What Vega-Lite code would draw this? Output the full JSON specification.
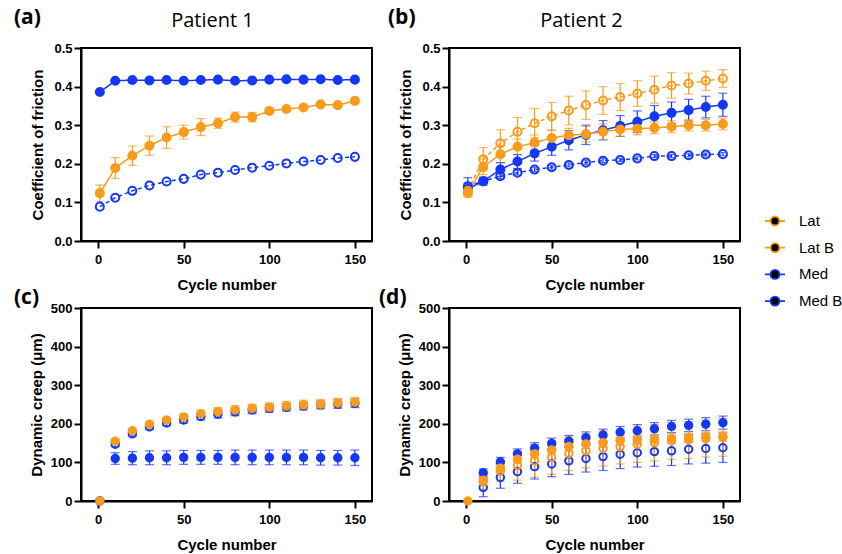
{
  "$schema": "https://vega.github.io/schema/vega-lite/v6.json",
  "padding": {"left": 13, "top": 6, "right": 0, "bottom": 0},
  "config": {
    "font": "Liberation Sans",
    "view": {"stroke": "black", "strokeWidth": 2},
    "axis": {
      "grid": false,
      "labelFont": "Liberation Sans", "labelFontWeight": "bold", "labelFontSize": 13, "labelColor": "black",
      "titleFont": "Liberation Sans", "titleFontWeight": "bold", "titleFontSize": 15, "titleColor": "black",
      "domainColor": "black", "domainWidth": 2, "tickColor": "black", "tickWidth": 2, "tickSize": 7, "labelPadding": 2
    },
    "axisX": {"labelPadding": 5, "titlePadding": 11},
    "axisY": {"titlePadding": 8},
    "title": {"font": "Open Sans", "fontSize": 21, "fontWeight": "bold", "anchor": "start", "frame": "group", "baseline": "alphabetic", "color": "black"}
  },
  "datasets": {
    "a": [
      {"s": "Med B", "x": 1, "y": 0.089, "e": 0}, {"s": "Med B", "x": 10, "y": 0.112, "e": 0}, {"s": "Med B", "x": 20, "y": 0.130, "e": 0}, {"s": "Med B", "x": 30, "y": 0.144, "e": 0}, {"s": "Med B", "x": 40, "y": 0.154, "e": 0}, {"s": "Med B", "x": 50, "y": 0.161, "e": 0}, {"s": "Med B", "x": 60, "y": 0.172, "e": 0}, {"s": "Med B", "x": 70, "y": 0.177, "e": 0}, {"s": "Med B", "x": 80, "y": 0.184, "e": 0}, {"s": "Med B", "x": 90, "y": 0.190, "e": 0}, {"s": "Med B", "x": 100, "y": 0.195, "e": 0}, {"s": "Med B", "x": 110, "y": 0.201, "e": 0}, {"s": "Med B", "x": 120, "y": 0.206, "e": 0}, {"s": "Med B", "x": 130, "y": 0.210, "e": 0}, {"s": "Med B", "x": 140, "y": 0.215, "e": 0}, {"s": "Med B", "x": 150, "y": 0.218, "e": 0},
      {"s": "Med", "x": 1, "y": 0.386, "e": 0}, {"s": "Med", "x": 10, "y": 0.415, "e": 0}, {"s": "Med", "x": 20, "y": 0.417, "e": 0}, {"s": "Med", "x": 30, "y": 0.416, "e": 0}, {"s": "Med", "x": 40, "y": 0.417, "e": 0}, {"s": "Med", "x": 50, "y": 0.415, "e": 0}, {"s": "Med", "x": 60, "y": 0.417, "e": 0}, {"s": "Med", "x": 70, "y": 0.418, "e": 0}, {"s": "Med", "x": 80, "y": 0.415, "e": 0}, {"s": "Med", "x": 90, "y": 0.416, "e": 0}, {"s": "Med", "x": 100, "y": 0.418, "e": 0}, {"s": "Med", "x": 110, "y": 0.419, "e": 0}, {"s": "Med", "x": 120, "y": 0.418, "e": 0}, {"s": "Med", "x": 130, "y": 0.419, "e": 0}, {"s": "Med", "x": 140, "y": 0.417, "e": 0}, {"s": "Med", "x": 150, "y": 0.418, "e": 0},
      {"s": "Lat", "x": 1, "y": 0.124, "e": 0.021}, {"s": "Lat", "x": 10, "y": 0.189, "e": 0.027}, {"s": "Lat", "x": 20, "y": 0.221, "e": 0.025}, {"s": "Lat", "x": 30, "y": 0.247, "e": 0.025}, {"s": "Lat", "x": 40, "y": 0.268, "e": 0.028}, {"s": "Lat", "x": 50, "y": 0.282, "e": 0.018}, {"s": "Lat", "x": 60, "y": 0.295, "e": 0.022}, {"s": "Lat", "x": 70, "y": 0.305, "e": 0.013}, {"s": "Lat", "x": 80, "y": 0.321, "e": 0.013}, {"s": "Lat", "x": 90, "y": 0.321, "e": 0.012}, {"s": "Lat", "x": 100, "y": 0.337, "e": 0.006}, {"s": "Lat", "x": 110, "y": 0.342, "e": 0.005}, {"s": "Lat", "x": 120, "y": 0.346, "e": 0.005}, {"s": "Lat", "x": 130, "y": 0.354, "e": 0.004}, {"s": "Lat", "x": 140, "y": 0.352, "e": 0.004}, {"s": "Lat", "x": 150, "y": 0.363, "e": 0.004}
    ],
    "b": [
      {"s": "Med B", "x": 1, "y": 0.142, "e": 0.022}, {"s": "Med B", "x": 10, "y": 0.155, "e": 0.006}, {"s": "Med B", "x": 20, "y": 0.168, "e": 0.006}, {"s": "Med B", "x": 30, "y": 0.177, "e": 0.006}, {"s": "Med B", "x": 40, "y": 0.185, "e": 0.005}, {"s": "Med B", "x": 50, "y": 0.191, "e": 0.005}, {"s": "Med B", "x": 60, "y": 0.197, "e": 0.005}, {"s": "Med B", "x": 70, "y": 0.203, "e": 0.005}, {"s": "Med B", "x": 80, "y": 0.208, "e": 0.005}, {"s": "Med B", "x": 90, "y": 0.210, "e": 0.004}, {"s": "Med B", "x": 100, "y": 0.214, "e": 0.004}, {"s": "Med B", "x": 110, "y": 0.220, "e": 0.004}, {"s": "Med B", "x": 120, "y": 0.220, "e": 0.004}, {"s": "Med B", "x": 130, "y": 0.222, "e": 0.004}, {"s": "Med B", "x": 140, "y": 0.224, "e": 0.004}, {"s": "Med B", "x": 150, "y": 0.225, "e": 0.004},
      {"s": "Med", "x": 1, "y": 0.135, "e": 0.015}, {"s": "Med", "x": 10, "y": 0.155, "e": 0.01}, {"s": "Med", "x": 20, "y": 0.185, "e": 0.018}, {"s": "Med", "x": 30, "y": 0.206, "e": 0.018}, {"s": "Med", "x": 40, "y": 0.227, "e": 0.02}, {"s": "Med", "x": 50, "y": 0.244, "e": 0.022}, {"s": "Med", "x": 60, "y": 0.261, "e": 0.025}, {"s": "Med", "x": 70, "y": 0.275, "e": 0.025}, {"s": "Med", "x": 80, "y": 0.287, "e": 0.025}, {"s": "Med", "x": 90, "y": 0.298, "e": 0.027}, {"s": "Med", "x": 100, "y": 0.309, "e": 0.028}, {"s": "Med", "x": 110, "y": 0.323, "e": 0.028}, {"s": "Med", "x": 120, "y": 0.332, "e": 0.028}, {"s": "Med", "x": 130, "y": 0.339, "e": 0.028}, {"s": "Med", "x": 140, "y": 0.347, "e": 0.028}, {"s": "Med", "x": 150, "y": 0.353, "e": 0.03},
      {"s": "Lat B", "x": 1, "y": 0.130, "e": 0.012}, {"s": "Lat B", "x": 10, "y": 0.212, "e": 0.03}, {"s": "Lat B", "x": 20, "y": 0.253, "e": 0.035}, {"s": "Lat B", "x": 30, "y": 0.283, "e": 0.037}, {"s": "Lat B", "x": 40, "y": 0.305, "e": 0.038}, {"s": "Lat B", "x": 50, "y": 0.323, "e": 0.036}, {"s": "Lat B", "x": 60, "y": 0.338, "e": 0.037}, {"s": "Lat B", "x": 70, "y": 0.352, "e": 0.037}, {"s": "Lat B", "x": 80, "y": 0.364, "e": 0.036}, {"s": "Lat B", "x": 90, "y": 0.373, "e": 0.035}, {"s": "Lat B", "x": 100, "y": 0.382, "e": 0.033}, {"s": "Lat B", "x": 110, "y": 0.392, "e": 0.035}, {"s": "Lat B", "x": 120, "y": 0.403, "e": 0.033}, {"s": "Lat B", "x": 130, "y": 0.408, "e": 0.027}, {"s": "Lat B", "x": 140, "y": 0.415, "e": 0.025}, {"s": "Lat B", "x": 150, "y": 0.421, "e": 0.023},
      {"s": "Lat", "x": 1, "y": 0.125, "e": 0.012}, {"s": "Lat", "x": 10, "y": 0.192, "e": 0.02}, {"s": "Lat", "x": 20, "y": 0.225, "e": 0.022}, {"s": "Lat", "x": 30, "y": 0.244, "e": 0.02}, {"s": "Lat", "x": 40, "y": 0.255, "e": 0.02}, {"s": "Lat", "x": 50, "y": 0.267, "e": 0.02}, {"s": "Lat", "x": 60, "y": 0.274, "e": 0.018}, {"s": "Lat", "x": 70, "y": 0.277, "e": 0.02}, {"s": "Lat", "x": 80, "y": 0.283, "e": 0.02}, {"s": "Lat", "x": 90, "y": 0.289, "e": 0.018}, {"s": "Lat", "x": 100, "y": 0.291, "e": 0.016}, {"s": "Lat", "x": 110, "y": 0.293, "e": 0.015}, {"s": "Lat", "x": 120, "y": 0.296, "e": 0.015}, {"s": "Lat", "x": 130, "y": 0.300, "e": 0.015}, {"s": "Lat", "x": 140, "y": 0.300, "e": 0.015}, {"s": "Lat", "x": 150, "y": 0.303, "e": 0.015}
    ],
    "c": [
      {"s": "Med B", "x": 1, "y": 0, "e": 0}, {"s": "Med B", "x": 10, "y": 147, "e": 6}, {"s": "Med B", "x": 20, "y": 174, "e": 6}, {"s": "Med B", "x": 30, "y": 192, "e": 6}, {"s": "Med B", "x": 40, "y": 202, "e": 7}, {"s": "Med B", "x": 50, "y": 210, "e": 8}, {"s": "Med B", "x": 60, "y": 219, "e": 9}, {"s": "Med B", "x": 70, "y": 225, "e": 10}, {"s": "Med B", "x": 80, "y": 231, "e": 10}, {"s": "Med B", "x": 90, "y": 236, "e": 10}, {"s": "Med B", "x": 100, "y": 240, "e": 10}, {"s": "Med B", "x": 110, "y": 243, "e": 10}, {"s": "Med B", "x": 120, "y": 246, "e": 10}, {"s": "Med B", "x": 130, "y": 249, "e": 10}, {"s": "Med B", "x": 140, "y": 251, "e": 11}, {"s": "Med B", "x": 150, "y": 253, "e": 11},
      {"s": "Med", "x": 1, "y": 0, "e": 0}, {"s": "Med", "x": 10, "y": 110, "e": 15}, {"s": "Med", "x": 20, "y": 111, "e": 17}, {"s": "Med", "x": 30, "y": 112, "e": 18}, {"s": "Med", "x": 40, "y": 112, "e": 18}, {"s": "Med", "x": 50, "y": 113, "e": 18}, {"s": "Med", "x": 60, "y": 113, "e": 18}, {"s": "Med", "x": 70, "y": 113, "e": 18}, {"s": "Med", "x": 80, "y": 113, "e": 19}, {"s": "Med", "x": 90, "y": 113, "e": 19}, {"s": "Med", "x": 100, "y": 113, "e": 19}, {"s": "Med", "x": 110, "y": 113, "e": 19}, {"s": "Med", "x": 120, "y": 113, "e": 19}, {"s": "Med", "x": 130, "y": 112, "e": 19}, {"s": "Med", "x": 140, "y": 112, "e": 19}, {"s": "Med", "x": 150, "y": 112, "e": 20},
      {"s": "Lat", "x": 1, "y": 0, "e": 0}, {"s": "Lat", "x": 10, "y": 155, "e": 5}, {"s": "Lat", "x": 20, "y": 182, "e": 5}, {"s": "Lat", "x": 30, "y": 199, "e": 5}, {"s": "Lat", "x": 40, "y": 210, "e": 6}, {"s": "Lat", "x": 50, "y": 218, "e": 7}, {"s": "Lat", "x": 60, "y": 226, "e": 9}, {"s": "Lat", "x": 70, "y": 232, "e": 10}, {"s": "Lat", "x": 80, "y": 236, "e": 11}, {"s": "Lat", "x": 90, "y": 240, "e": 11}, {"s": "Lat", "x": 100, "y": 243, "e": 11}, {"s": "Lat", "x": 110, "y": 246, "e": 12}, {"s": "Lat", "x": 120, "y": 249, "e": 12}, {"s": "Lat", "x": 130, "y": 251, "e": 12}, {"s": "Lat", "x": 140, "y": 254, "e": 12}, {"s": "Lat", "x": 150, "y": 256, "e": 12}
    ],
    "d": [
      {"s": "Med B", "x": 10, "y": 35, "e": 24}, {"s": "Med B", "x": 20, "y": 61, "e": 28}, {"s": "Med B", "x": 30, "y": 76, "e": 30}, {"s": "Med B", "x": 40, "y": 89, "e": 32}, {"s": "Med B", "x": 50, "y": 96, "e": 33}, {"s": "Med B", "x": 60, "y": 104, "e": 35}, {"s": "Med B", "x": 70, "y": 110, "e": 35}, {"s": "Med B", "x": 80, "y": 115, "e": 36}, {"s": "Med B", "x": 90, "y": 121, "e": 37}, {"s": "Med B", "x": 100, "y": 125, "e": 37}, {"s": "Med B", "x": 110, "y": 128, "e": 38}, {"s": "Med B", "x": 120, "y": 130, "e": 38}, {"s": "Med B", "x": 130, "y": 134, "e": 38}, {"s": "Med B", "x": 140, "y": 136, "e": 38}, {"s": "Med B", "x": 150, "y": 138, "e": 38},
      {"s": "Med", "x": 10, "y": 73, "e": 10}, {"s": "Med", "x": 20, "y": 101, "e": 12}, {"s": "Med", "x": 30, "y": 122, "e": 13}, {"s": "Med", "x": 40, "y": 137, "e": 14}, {"s": "Med", "x": 50, "y": 149, "e": 14}, {"s": "Med", "x": 60, "y": 155, "e": 15}, {"s": "Med", "x": 70, "y": 164, "e": 15}, {"s": "Med", "x": 80, "y": 171, "e": 15}, {"s": "Med", "x": 90, "y": 178, "e": 15}, {"s": "Med", "x": 100, "y": 182, "e": 16}, {"s": "Med", "x": 110, "y": 187, "e": 16}, {"s": "Med", "x": 120, "y": 193, "e": 16}, {"s": "Med", "x": 130, "y": 196, "e": 16}, {"s": "Med", "x": 140, "y": 199, "e": 17}, {"s": "Med", "x": 150, "y": 203, "e": 17},
      {"s": "Lat B", "x": 10, "y": 50, "e": 20}, {"s": "Lat B", "x": 20, "y": 78, "e": 28}, {"s": "Lat B", "x": 30, "y": 92, "e": 38}, {"s": "Lat B", "x": 40, "y": 104, "e": 42}, {"s": "Lat B", "x": 50, "y": 113, "e": 44}, {"s": "Lat B", "x": 60, "y": 123, "e": 44}, {"s": "Lat B", "x": 70, "y": 130, "e": 44}, {"s": "Lat B", "x": 80, "y": 136, "e": 45}, {"s": "Lat B", "x": 90, "y": 141, "e": 45}, {"s": "Lat B", "x": 100, "y": 147, "e": 47}, {"s": "Lat B", "x": 110, "y": 151, "e": 47}, {"s": "Lat B", "x": 120, "y": 156, "e": 48}, {"s": "Lat B", "x": 130, "y": 158, "e": 48}, {"s": "Lat B", "x": 140, "y": 162, "e": 48}, {"s": "Lat B", "x": 150, "y": 165, "e": 49},
      {"s": "Lat", "x": 1, "y": 0, "e": 0}, {"s": "Lat", "x": 10, "y": 54, "e": 8}, {"s": "Lat", "x": 20, "y": 85, "e": 10}, {"s": "Lat", "x": 30, "y": 108, "e": 10}, {"s": "Lat", "x": 40, "y": 122, "e": 10}, {"s": "Lat", "x": 50, "y": 132, "e": 10}, {"s": "Lat", "x": 60, "y": 141, "e": 12}, {"s": "Lat", "x": 70, "y": 148, "e": 12}, {"s": "Lat", "x": 80, "y": 151, "e": 12}, {"s": "Lat", "x": 90, "y": 156, "e": 12}, {"s": "Lat", "x": 100, "y": 158, "e": 12}, {"s": "Lat", "x": 110, "y": 160, "e": 12}, {"s": "Lat", "x": 120, "y": 162, "e": 12}, {"s": "Lat", "x": 130, "y": 164, "e": 12}, {"s": "Lat", "x": 140, "y": 166, "e": 12}, {"s": "Lat", "x": 150, "y": 167, "e": 12}
    ]
  },
  "columns": 2,
  "bounds": "flush",
  "spacing": {"row": 67, "column": 77},
  "concat": [
    {
      "width": 291, "height": 193,
      "data": {"name": "a"},
      "title": {"text": "(a)", "dx": -67, "offset": -18},
      "resolve": {"axis": {"x": "independent", "y": "independent"}},
      "layer": [
        {
          "mark": {"type": "line", "strokeWidth": 1.5},
          "encoding": {
            "x": {"field": "x", "type": "quantitative", "scale": {"domain": [-10, 160], "nice": false, "zero": false}, "axis": {"orient": "bottom", "values": [0, 50, 100, 150], "title": "Cycle number"}},
            "y": {"field": "y", "type": "quantitative", "scale": {"domain": [0, 0.5], "nice": false}, "axis": {"orient": "left", "values": [0, 0.1, 0.2, 0.3, 0.4, 0.5], "format": ".1f", "title": "Coefficient of friction"}},
            "stroke": {"field": "s", "type": "nominal", "scale": {"domain": ["Lat", "Lat B", "Med", "Med B"], "range": ["#F99B1C", "#F99B1C", "#1438F4", "#1438F4"]}},
            "strokeDash": {"field": "s", "type": "nominal", "scale": {"domain": ["Med B", "Med", "Lat B", "Lat"], "range": [[4, 3], [1, 0], [4, 3], [1, 0]]}, "legend": null}
          }
        },
        {
          "transform": [{"filter": "datum.e > 0"}],
          "mark": {"type": "errorbar", "ticks": true, "size": 9, "thickness": 1.2},
          "encoding": {
            "x": {"field": "x", "type": "quantitative", "axis": null},
            "y": {"field": "y", "type": "quantitative", "axis": null},
            "yError": {"field": "e"},
            "color": {"field": "s", "type": "nominal", "scale": {"domain": ["Med", "Med B", "Lat", "Lat B"], "range": ["#1438F4", "#1438F4", "#F99B1C", "#F99B1C"]}, "legend": null}
          }
        },
        {
          "mark": {"type": "point", "shape": "circle", "size": 65, "strokeWidth": 2, "opacity": 1},
          "encoding": {
            "x": {"field": "x", "type": "quantitative", "axis": null},
            "y": {"field": "y", "type": "quantitative", "axis": null},
            "stroke": {"field": "s", "type": "nominal", "scale": {"domain": ["Lat", "Lat B", "Med", "Med B"], "range": ["#F99B1C", "#F99B1C", "#1438F4", "#1438F4"]},
              "legend": {
                "title": null, "orient": "none", "legendX": 683, "legendY": 162,
                "symbolType": "M-1,0L-0.45,0M0.45,0L1,0M-0.45,0A0.45,0.45,0,1,1,0.45,0A0.45,0.45,0,1,1,-0.45,0Z",
                "symbolSize": 400, "symbolStrokeWidth": 1.8, "symbolOpacity": 1,
                "labelFont": "Liberation Sans", "labelFontSize": 15, "labelFontWeight": "normal", "labelColor": "black",
                "labelOffset": 13, "rowPadding": 6.7, "padding": 0,
                "encode": {"symbols": {
                  "fill": {"condition": [{"test": "datum.value === 'Lat B' || datum.value === 'Med B'", "value": "transparent"}, {"test": "datum.value === 'Lat'", "value": "#F99B1C"}], "value": "#1438F4"},
                  "strokeDash": {"condition": {"test": "datum.value === 'Lat B' || datum.value === 'Med B'", "value": [3, 2]}, "value": [1, 0]},
                  "opacity": {"value": 1}
                }}
              }
            },
            "fill": {"field": "s", "type": "nominal", "scale": {"domain": ["Lat B", "Lat", "Med B", "Med"], "range": ["transparent", "#F99B1C", "transparent", "#1438F4"]}, "legend": null}
          }
        },
        {
          "mark": {"type": "rule", "opacity": 0},
          "encoding": {
            "x": {"field": "x", "type": "quantitative", "axis": {"orient": "top", "title": "Patient 1", "labels": false, "ticks": false, "domain": false, "titleFont": "Open Sans", "titleFontWeight": "normal", "titleFontSize": 20, "titlePadding": 22, "titleBaseline": "alphabetic", "titleX": 131, "titleY": -22, "titleAlign": "center"}}
          }
        }
      ]
    },
    {
      "width": 291, "height": 193,
      "data": {"name": "b"},
      "title": {"text": "(b)", "dx": -61, "offset": -18},
      "resolve": {"axis": {"x": "independent", "y": "independent"}},
      "layer": [
        {
          "mark": {"type": "line", "strokeWidth": 1.5},
          "encoding": {
            "x": {"field": "x", "type": "quantitative", "scale": {"domain": [-10, 160], "nice": false, "zero": false}, "axis": {"orient": "bottom", "values": [0, 50, 100, 150], "title": "Cycle number"}},
            "y": {"field": "y", "type": "quantitative", "scale": {"domain": [0, 0.5], "nice": false}, "axis": {"orient": "left", "values": [0, 0.1, 0.2, 0.3, 0.4, 0.5], "format": ".1f", "title": "Coefficient of friction"}},
            "stroke": {"field": "s", "type": "nominal", "scale": {"domain": ["Lat", "Lat B", "Med", "Med B"], "range": ["#F99B1C", "#F99B1C", "#1438F4", "#1438F4"]}},
            "strokeDash": {"field": "s", "type": "nominal", "scale": {"domain": ["Med B", "Med", "Lat B", "Lat"], "range": [[4, 3], [1, 0], [4, 3], [1, 0]]}, "legend": null}
          }
        },
        {
          "transform": [{"filter": "datum.e > 0"}],
          "mark": {"type": "errorbar", "ticks": true, "size": 9, "thickness": 1.2},
          "encoding": {
            "x": {"field": "x", "type": "quantitative", "axis": null},
            "y": {"field": "y", "type": "quantitative", "axis": null},
            "yError": {"field": "e"},
            "color": {"field": "s", "type": "nominal", "scale": {"domain": ["Med", "Med B", "Lat", "Lat B"], "range": ["#1438F4", "#1438F4", "#F99B1C", "#F99B1C"]}, "legend": null}
          }
        },
        {
          "mark": {"type": "point", "shape": "circle", "size": 65, "strokeWidth": 2, "opacity": 1},
          "encoding": {
            "x": {"field": "x", "type": "quantitative", "axis": null},
            "y": {"field": "y", "type": "quantitative", "axis": null},
            "stroke": {"field": "s", "type": "nominal", "scale": {"domain": ["Lat", "Lat B", "Med", "Med B"], "range": ["#F99B1C", "#F99B1C", "#1438F4", "#1438F4"]}},
            "fill": {"field": "s", "type": "nominal", "scale": {"domain": ["Lat B", "Lat", "Med B", "Med"], "range": ["transparent", "#F99B1C", "transparent", "#1438F4"]}, "legend": null}
          }
        },
        {
          "mark": {"type": "rule", "opacity": 0},
          "encoding": {
            "x": {"field": "x", "type": "quantitative", "axis": {"orient": "top", "title": "Patient 2", "labels": false, "ticks": false, "domain": false, "titleFont": "Open Sans", "titleFontWeight": "normal", "titleFontSize": 20, "titlePadding": 22, "titleBaseline": "alphabetic", "titleX": 132, "titleY": -22, "titleAlign": "center"}}
          }
        }
      ]
    },
    {
      "width": 291, "height": 193,
      "data": {"name": "c"},
      "title": {"text": "(c)", "dx": -67, "offset": -6},
      "resolve": {"axis": {"x": "independent", "y": "independent"}},
      "layer": [
        {
          "transform": [{"filter": "datum.e > 0"}],
          "mark": {"type": "errorbar", "ticks": true, "size": 9, "thickness": 1.2},
          "encoding": {
            "x": {"field": "x", "type": "quantitative", "axis": null, "scale": {"domain": [-10, 160], "nice": false, "zero": false}},
            "y": {"field": "y", "type": "quantitative", "axis": null, "scale": {"domain": [0, 500], "nice": false}},
            "yError": {"field": "e"},
            "color": {"field": "s", "type": "nominal", "scale": {"domain": ["Med", "Med B", "Lat", "Lat B"], "range": ["#1438F4", "#1438F4", "#F99B1C", "#F99B1C"]}, "legend": null}
          }
        },
        {
          "mark": {"type": "point", "shape": "circle", "size": 55, "strokeWidth": 2, "opacity": 1},
          "encoding": {
            "x": {"field": "x", "type": "quantitative", "scale": {"domain": [-10, 160], "nice": false, "zero": false}, "axis": {"orient": "bottom", "values": [0, 50, 100, 150], "title": "Cycle number"}},
            "y": {"field": "y", "type": "quantitative", "scale": {"domain": [0, 500], "nice": false}, "axis": {"orient": "left", "values": [0, 100, 200, 300, 400, 500], "title": "Dynamic creep (μm)", "titlePadding": 6}},
            "stroke": {"field": "s", "type": "nominal", "scale": {"domain": ["Lat", "Lat B", "Med", "Med B"], "range": ["#F99B1C", "#F99B1C", "#1438F4", "#1438F4"]}},
            "fill": {"field": "s", "type": "nominal", "scale": {"domain": ["Lat B", "Lat", "Med B", "Med"], "range": ["transparent", "#F99B1C", "transparent", "#1438F4"]}, "legend": null}
          }
        }
      ]
    },
    {
      "width": 291, "height": 193,
      "data": {"name": "d"},
      "title": {"text": "(d)", "dx": -70, "offset": -6},
      "resolve": {"axis": {"x": "independent", "y": "independent"}},
      "layer": [
        {
          "transform": [{"filter": "datum.e > 0"}],
          "mark": {"type": "errorbar", "ticks": true, "size": 9, "thickness": 1.2},
          "encoding": {
            "x": {"field": "x", "type": "quantitative", "axis": null, "scale": {"domain": [-10, 160], "nice": false, "zero": false}},
            "y": {"field": "y", "type": "quantitative", "axis": null, "scale": {"domain": [0, 500], "nice": false}},
            "yError": {"field": "e"},
            "color": {"field": "s", "type": "nominal", "scale": {"domain": ["Med", "Med B", "Lat", "Lat B"], "range": ["#1438F4", "#1438F4", "#F99B1C", "#F99B1C"]}, "legend": null}
          }
        },
        {
          "mark": {"type": "point", "shape": "circle", "size": 55, "strokeWidth": 2, "opacity": 1},
          "encoding": {
            "x": {"field": "x", "type": "quantitative", "scale": {"domain": [-10, 160], "nice": false, "zero": false}, "axis": {"orient": "bottom", "values": [0, 50, 100, 150], "title": "Cycle number"}},
            "y": {"field": "y", "type": "quantitative", "scale": {"domain": [0, 500], "nice": false}, "axis": {"orient": "left", "values": [0, 100, 200, 300, 400, 500], "title": "Dynamic creep (μm)", "titlePadding": 6}},
            "stroke": {"field": "s", "type": "nominal", "scale": {"domain": ["Lat", "Lat B", "Med", "Med B"], "range": ["#F99B1C", "#F99B1C", "#1438F4", "#1438F4"]}},
            "fill": {"field": "s", "type": "nominal", "scale": {"domain": ["Lat B", "Lat", "Med B", "Med"], "range": ["transparent", "#F99B1C", "transparent", "#1438F4"]}, "legend": null}
          }
        }
      ]
    }
  ]
}
